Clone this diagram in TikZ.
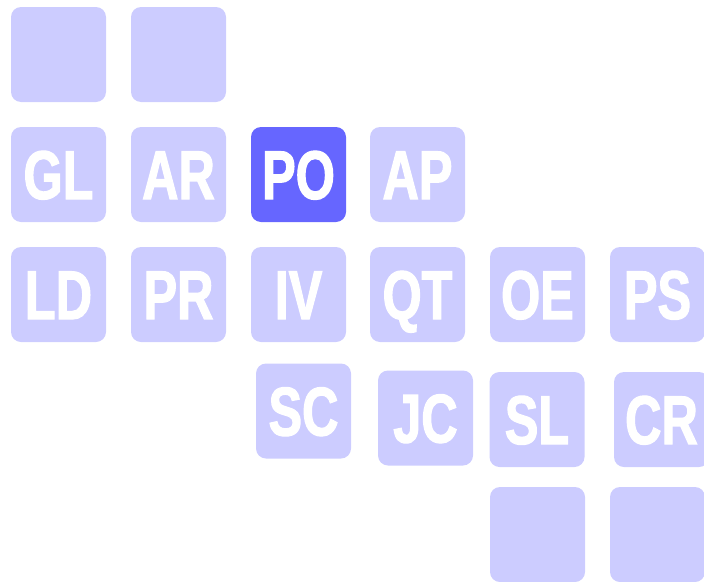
\documentclass[tikz,border=0pt]{standalone}
\usepackage{fontspec}
\newfontfamily\tilefont[FakeStretch=0.73, FakeBold=1.6]{Liberation Sans Bold}
\usetikzlibrary{positioning}
\definecolor{TileLight}{RGB}{204,204,255}
\definecolor{TileDark}{RGB}{102,102,255}
\tikzset{
  tile/.style={fill=TileLight, rounded corners=10pt, minimum width=95pt,
               minimum height=95pt, inner sep=0pt, text=white,
               font=\tilefont\fontsize{69}{69}\selectfont,
               text height=49pt, text depth=0pt},
  hottile/.style={tile, fill=TileDark}
}

\begin{document}
\begin{tikzpicture}[x=1pt, y=-1pt]
    \useasboundingbox (0,0) rectangle (704,581);
    \clip (0,0) rectangle (704,581);

    % Top row (blank)
    \node[tile] (B1) at (58.5, 54.5) {};
    \node[tile] (B2) at (178.5, 54.5) {};

    % Second row
    \node[tile]    (GL) at (58.5, 174.5) {GL};
    \node[tile]    (AR) at (178.5, 174.5) {AR};
    \node[hottile] (PO) at (298.5, 174.5) {PO};
    \node[tile]    (AP) at (417.5, 174.5) {AP};

    % Third row
    \node[tile] (LD) at (58.5, 294.5) {LD};
    \node[tile] (PR) at (178.5, 294.5) {PR};
    \node[tile] (IV) at (298.5, 294.5) {IV};
    \node[tile] (QT) at (417.5, 294.5) {QT};
    \node[tile] (OE) at (537.5, 294.5) {OE};
    \node[tile] (PS) at (657.5, 294.5) {PS};

    % Fourth row (shifted)
    \node[tile] (SC) at (303.5, 411) {SC};
    \node[tile] (JC) at (425.5, 418) {JC};
    \node[tile] (SL) at (537, 419.5) {SL};
    \node[tile] (CR) at (661.5, 419.5) {CR};

    % Bottom row (blank)
    \node[tile] (B3) at (537.5, 534.5) {};
    \node[tile] (B4) at (657.5, 534.5) {};
  \end{tikzpicture}
\end{document}
